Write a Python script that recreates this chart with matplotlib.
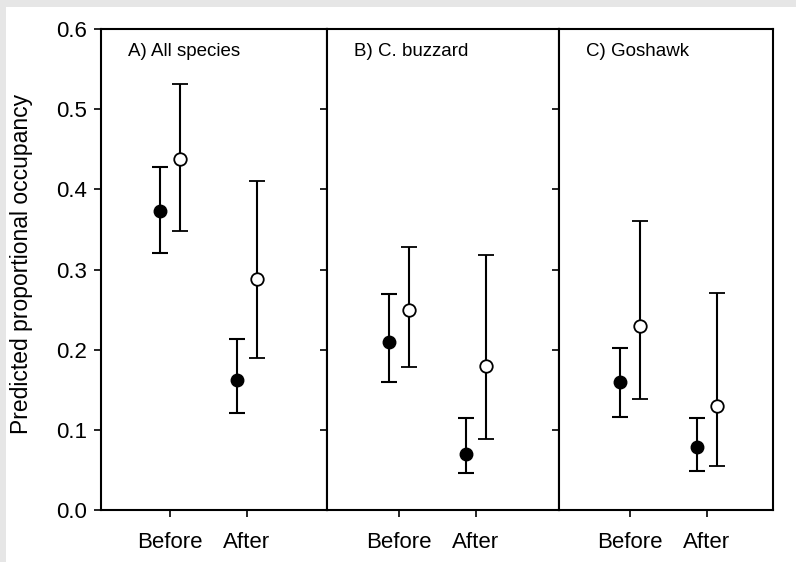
import matplotlib
matplotlib.use("Agg")
import matplotlib.pyplot as plt
from matplotlib.patches import Rectangle

plt.rcParams['font.family'] = ['Liberation Sans', 'DejaVu Sans']

panels = ["A) All species", "B) C. buzzard", "C) Goshawk"]
periods = ["Before", "After"]

# filled (black) series
filled_mean = [[0.373, 0.162], [0.210, 0.070], [0.160, 0.079]]
filled_low = [[0.320, 0.121], [0.160, 0.046], [0.1165, 0.049]]
filled_high = [[0.428, 0.213], [0.269, 0.115], [0.2025, 0.115]]

# open (white) series
open_mean = [[0.438, 0.288], [0.249, 0.180], [0.230, 0.130]]
open_low = [[0.348, 0.189], [0.178, 0.0886], [0.139, 0.055]]
open_high = [[0.531, 0.411], [0.328, 0.318], [0.361, 0.271]]

yticks = [0.0, 0.1, 0.2, 0.3, 0.4, 0.5, 0.6]

W, H = 796, 562
fig = plt.figure(figsize=(W / 100, H / 100), dpi=100)
fig.patch.set_facecolor('#e6e6e6')
fig.patches.append(Rectangle((6 / W, 0), 1 - 6 / W, 1 - 7 / H,
                             transform=fig.transFigure, facecolor='white',
                             edgecolor='none', zorder=-10))

panel_px = [(101, 327, 170), (327, 559, 399), (559, 773, 630)]
top_px, bot_px = 29, 510
unit = 77.0
off = 0.13

for i, (l, r, bx) in enumerate(panel_px):
    ax = fig.add_axes([l / W, 1 - bot_px / H, (r - l) / W, (bot_px - top_px) / H])
    ax.set_xlim(1 - (bx - l) / unit, 1 + (r - bx) / unit)
    ax.set_ylim(0, 0.6)
    x = [1, 2]
    xf = [v - off for v in x]
    xo = [v + off for v in x]
    fm, fl, fh = filled_mean[i], filled_low[i], filled_high[i]
    om, ol, oh = open_mean[i], open_low[i], open_high[i]
    ax.errorbar(xf, fm, yerr=[[m - lo for m, lo in zip(fm, fl)], [h - m for m, h in zip(fm, fh)]],
                fmt='o', color='black', markersize=9, markerfacecolor='black',
                markeredgecolor='black', elinewidth=1.5, capsize=6, capthick=1.5, zorder=3)
    ax.errorbar(xo, om, yerr=[[m - lo for m, lo in zip(om, ol)], [h - m for m, h in zip(om, oh)]],
                fmt='o', color='black', markersize=9, markerfacecolor='white',
                markeredgecolor='black', markeredgewidth=1.3, elinewidth=1.5,
                capsize=6, capthick=1.5, zorder=3)
    ax.set_xticks(x)
    ax.set_xticklabels(periods, fontsize=16)
    ax.set_yticks(yticks)
    if i == 0:
        ax.set_yticklabels([f"{v:.1f}" for v in yticks], fontsize=16)
    else:
        ax.set_yticklabels([])
    ax.tick_params(axis='both', direction='out', length=5, width=1.2, colors='black')
    ax.tick_params(axis='x', pad=11)
    ax.tick_params(axis='y', pad=5)
    for s in ax.spines.values():
        s.set_linewidth(1.5)
        s.set_color('black')
    ax.text(27 / (r - l), 1 - 23 / (bot_px - top_px), panels[i],
            transform=ax.transAxes, fontsize=13.5, ha='left', va='center')

fig.text(22 / W, 1 - 264 / H, "Predicted proportional occupancy", rotation=90,
         ha='center', va='center', fontsize=16.5)

fig.savefig("out.png", dpi=100, facecolor=fig.get_facecolor())
